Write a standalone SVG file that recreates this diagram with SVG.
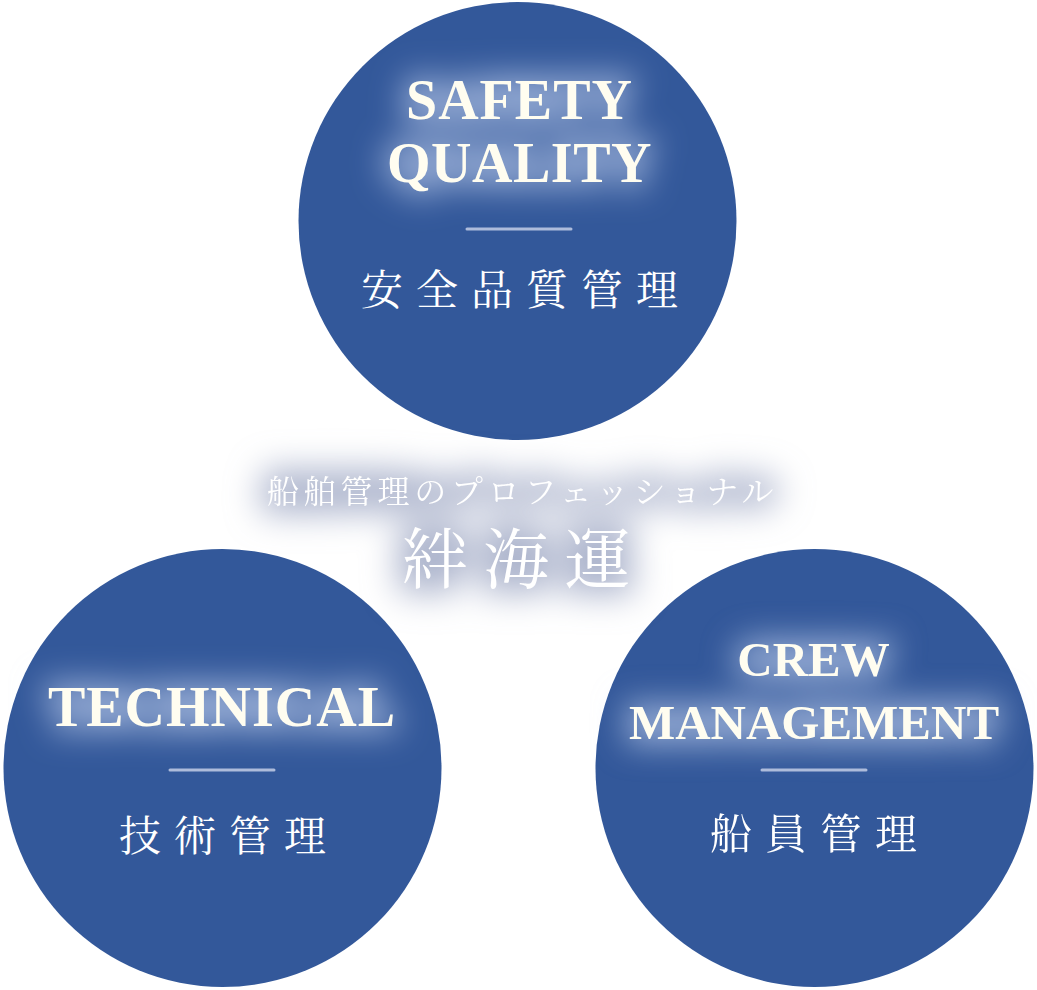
<svg xmlns="http://www.w3.org/2000/svg" width="1037" height="990" viewBox="0 0 1037 990">
  <defs>
    <filter id="blurL" x="-40%" y="-150%" width="180%" height="400%">
      <feGaussianBlur stdDeviation="16"/>
    </filter>
    <filter id="blurD" x="-40%" y="-150%" width="180%" height="400%">
      <feGaussianBlur stdDeviation="17"/>
    </filter>
  </defs>
  <style>
    .circle { fill: #33589a; }
    .en { font-family: "Liberation Serif", "Times New Roman", serif; font-weight: bold; fill: #fffdf0; text-anchor: middle; }
    .haloL { fill: #b3c4e6; stroke: #b3c4e6; stroke-width: 12; stroke-linejoin: round; opacity: 0.75; }
    .jp { font-family: "Noto Serif CJK JP", "Noto Sans CJK JP", serif; fill: #ffffff; font-size: 42px; letter-spacing: 13px; }
    .rule { stroke: #aebcdb; stroke-width: 3; stroke-linecap: round; }
    .center { font-family: "Noto Serif CJK JP", "Noto Sans CJK JP", serif; fill: #ffffff; }
    .haloD { fill: #9ea7c3; stroke: #9ea7c3; stroke-width: 16; stroke-linejoin: round; opacity: 0.85; }
  </style>
  <rect width="1037" height="990" fill="#ffffff"/>

  <g id="node-safety-quality">
    <circle class="circle" cx="517.5" cy="221" r="219"/>
    <g filter="url(#blurL)">
      <text class="en haloL" x="519.5" y="119" font-size="56" letter-spacing="1">SAFETY</text>
      <text class="en haloL" x="519.5" y="182" font-size="56" letter-spacing="0.5">QUALITY</text>
    </g>
    <text class="en" x="519.5" y="119" font-size="56" letter-spacing="1">SAFETY</text>
    <text class="en" x="519.5" y="182" font-size="56" letter-spacing="0.5">QUALITY</text>
    <line class="rule" x1="467" y1="229" x2="571" y2="229"/>
    <text class="jp" x="361" y="305">安全品質管理</text>
  </g>

  <g id="node-technical">
    <circle class="circle" cx="222.5" cy="768" r="219"/>
    <g filter="url(#blurL)">
      <text class="en haloL" x="222" y="726" font-size="56" letter-spacing="1">TECHNICAL</text>
    </g>
    <text class="en" x="222" y="726" font-size="56" letter-spacing="1">TECHNICAL</text>
    <line class="rule" x1="170" y1="770" x2="274" y2="770"/>
    <text class="jp" x="119" y="851">技術管理</text>
  </g>

  <g id="node-crew-management">
    <circle class="circle" cx="814.5" cy="768" r="219"/>
    <g filter="url(#blurL)">
      <text class="en haloL" x="813.5" y="676" font-size="49">CREW</text>
      <text class="en haloL" x="814" y="739" font-size="49">MANAGEMENT</text>
    </g>
    <text class="en" x="813.5" y="676" font-size="49">CREW</text>
    <text class="en" x="814" y="739" font-size="49">MANAGEMENT</text>
    <line class="rule" x1="762" y1="770" x2="866" y2="770"/>
    <text class="jp" x="710" y="849">船員管理</text>
  </g>

  <g id="center-title">
    <g filter="url(#blurD)">
      <text class="center haloD" x="267" y="503" font-size="32" letter-spacing="4.8">船舶管理のプロフェッショナル</text>
      <text class="center haloD" x="402" y="583" font-size="66" letter-spacing="15">絆海運</text>
    </g>
    <text class="center" x="267" y="503" font-size="32" letter-spacing="4.8">船舶管理のプロフェッショナル</text>
    <text class="center" x="402" y="583" font-size="66" letter-spacing="15">絆海運</text>
  </g>

  <g id="connectors"></g>
</svg>
